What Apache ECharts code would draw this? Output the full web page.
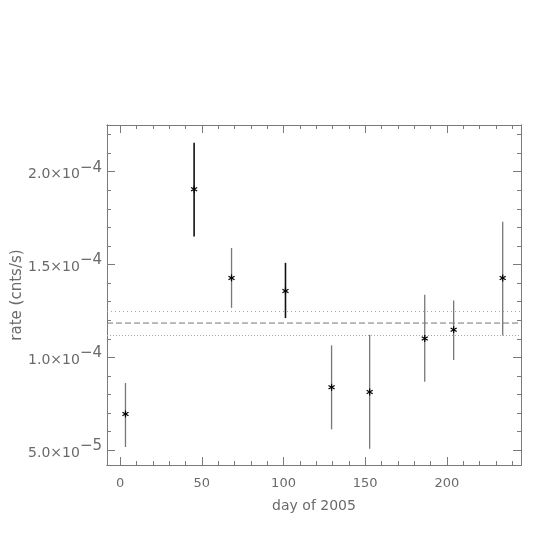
<!DOCTYPE html>
<html>
<head>
<meta charset="utf-8">
<script src="https://cdn.jsdelivr.net/npm/echarts@6/dist/echarts.min.js"></script>
<style>
  html, body { margin: 0; padding: 0; background: #fff; }
  #chart { width: 545px; height: 545px; }
</style>
</head>
<body>
<div id="chart"></div>
<script>
// observations: day of 2005, rate and error bar ends (cnts/s)
const days = [3.3, 45.3, 68.2, 101.2, 129.4, 152.7, 186.4, 204.1, 234.1]
const rates = [0.696e-4, 1.905e-4, 1.428e-4, 1.358e-4, 0.839e-4, 0.814e-4, 1.102e-4, 1.149e-4, 1.427e-4]
const rateLo = [0.518e-4, 1.651e-4, 1.267e-4, 1.212e-4, 0.613e-4, 0.509e-4, 0.869e-4, 0.986e-4, 1.118e-4]
const rateHi = [0.862e-4, 2.156e-4, 1.589e-4, 1.509e-4, 1.065e-4, 1.122e-4, 1.337e-4, 1.306e-4, 1.730e-4]

// mean rate and its 1-sigma band
const meanRate = 1.185e-4
const meanBand = [1.118e-4, 1.247e-4]

// ticks
const xTicks = [0, 50, 100, 150, 200]
const yTicks = [5e-5, 1e-4, 1.5e-4, 2e-4]
const yTickText = {
  5e-5: ['5.0×10', '−5'],
  1e-4: ['1.0×10', '−4'],
  1.5e-4: ['1.5×10', '−4'],
  2e-4: ['2.0×10', '−4']
}

const xMinor = []
for (let k = 0; k <= 24; k++) xMinor.push(k * 10)
const yMinor = []
for (let k = 5; k <= 22; k++) yMinor.push(k * 1e-5)

const AXIS = '#7a7a7a'
const TEXT = '#6a6a6a'
const FONT = 'DejaVu Sans'

const X_MIN = -8
const X_MAX = 245.3
const Y_MIN = 4.21e-5
const Y_MAX = 2.251e-4

function xAxisDef(position, values, len, withLabel) {
  return {
    type: 'value',
    position: position,
    min: X_MIN,
    max: X_MAX,
    splitLine: { show: false },
    axisLine: { show: true, onZero: false, lineStyle: { color: AXIS, width: 1 } },
    axisTick: { inside: true, length: len, customValues: values, lineStyle: { color: AXIS, width: 1 } },
    axisLabel: withLabel ? {
      customValues: xTicks,
      color: TEXT,
      fontFamily: FONT,
      fontSize: 13,
      margin: 12
    } : { show: false },
    name: withLabel ? 'day of 2005' : '',
    nameLocation: 'middle',
    nameGap: 34,
    nameMoveOverlap: false,
    nameTextStyle: { color: TEXT, fontFamily: FONT, fontSize: 14 }
  }
}

function yAxisDef(position, values, len, withLabel) {
  return {
    type: 'value',
    position: position,
    min: Y_MIN,
    max: Y_MAX,
    splitLine: { show: false },
    axisLine: { show: true, onZero: false, lineStyle: { color: AXIS, width: 1 } },
    axisTick: { inside: true, length: len, customValues: values, lineStyle: { color: AXIS, width: 1 } },
    axisLabel: withLabel ? {
      customValues: yTicks,
      margin: 5,
      formatter: function (v) {
        let key = yTicks.find(t => Math.abs(t - v) < 1e-9)
        let t = yTickText[key]
        return t ? '{b|' + t[0] + '}{s|' + t[1] + '}' : ''
      },
      rich: {
        b: { color: TEXT, fontFamily: FONT, fontSize: 14, padding: [6, 0, 0, 0] },
        s: { color: TEXT, fontFamily: FONT, fontSize: 15, padding: [0, 0, 8, 0] }
      }
    } : { show: false },
    name: withLabel ? 'rate (cnts/s)' : '',
    nameLocation: 'middle',
    nameGap: 82,
    nameMoveOverlap: false,
    nameTextStyle: { color: TEXT, fontFamily: FONT, fontSize: 15 }
  }
}

function renderPoint(params, api) {
  const pt = api.coord([api.value(0), api.value(1)])
  const lo = api.coord([api.value(0), api.value(2)])
  const hi = api.coord([api.value(0), api.value(3)])
  const dark = params.dataIndex === 1 || params.dataIndex === 3
  const r = 3.5
  const star = { stroke: '#000', lineWidth: 1.2 }
  return {
    type: 'group',
    children: [
      { type: 'line', shape: { x1: hi[0], y1: hi[1], x2: lo[0], y2: lo[1] },
        style: { stroke: dark ? '#111' : '#777', lineWidth: dark ? 1.6 : 1.3 } },
      { type: 'line', shape: { x1: pt[0], y1: pt[1] - r, x2: pt[0], y2: pt[1] + r }, style: star },
      { type: 'line', shape: { x1: pt[0] - r * 0.87, y1: pt[1] - r / 2, x2: pt[0] + r * 0.87, y2: pt[1] + r / 2 }, style: star },
      { type: 'line', shape: { x1: pt[0] - r * 0.87, y1: pt[1] + r / 2, x2: pt[0] + r * 0.87, y2: pt[1] - r / 2 }, style: star }
    ]
  }
}

// horizontal reference line across the whole x range
function levelLine(value, color, dash) {
  return {
    type: 'line',
    silent: true,
    symbol: 'none',
    data: [[X_MIN, value], [X_MAX, value]],
    lineStyle: { color: color, type: dash, width: 1 },
    z: 1
  }
}

const chart = echarts.init(document.getElementById('chart'), null, { renderer: 'canvas' })
chart.setOption({
  backgroundColor: '#fff',
  animation: false,
  grid: { left: 107, top: 125, right: 24, bottom: 80, containLabel: false, outerBoundsMode: 'none' },
  xAxis: [
    xAxisDef('bottom', xTicks, 8, true),
    xAxisDef('bottom', xMinor, 4, false),
    xAxisDef('top', xTicks, 8, false),
    xAxisDef('top', xMinor, 4, false)
  ],
  yAxis: [
    yAxisDef('left', yTicks, 8, true),
    yAxisDef('left', yMinor, 4, false),
    yAxisDef('right', yTicks, 8, false),
    yAxisDef('right', yMinor, 4, false)
  ],
  series: [
    levelLine(meanBand[1], '#a8a8a8', [1, 3]),
    levelLine(meanRate, '#777', [6, 3]),
    levelLine(meanBand[0], '#a8a8a8', [1, 2]),
    {
      type: 'custom',
      renderItem: renderPoint,
      encode: { x: 0, y: [1, 2, 3] },
      data: days.map((d, i) => [d, rates[i], rateLo[i], rateHi[i]]),
      z: 3
    }
  ]
})
</script>
</body>
</html>
